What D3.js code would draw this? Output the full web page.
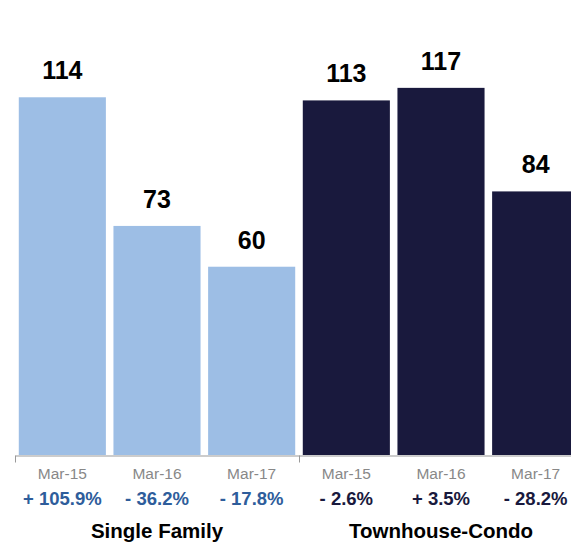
<!DOCTYPE html>
<html>
<head>
<meta charset="utf-8">
<script src="https://cdn.jsdelivr.net/npm/d3@7"></script>
<style>
  body { margin: 0; background: #fff; }
  text { font-family: "Liberation Sans", Arial, Helvetica, sans-serif; }
</style>
</head>
<body>
<div class="canvas"></div>
<script>
// data
const groups = ["Single Family", "Townhouse-Condo"];
const months = ["Mar-15", "Mar-16", "Mar-17"];
const singleFamily = [114, 73, 60];
const townhouseCondo = [113, 117, 84];
const singleFamilyChange = ["+ 105.9%", "- 36.2%", "- 17.8%"];
const townhouseCondoChange = ["- 2.6%", "+ 3.5%", "- 28.2%"];

const series = [
  { group: groups[0], values: singleFamily, change: singleFamilyChange, fill: "#9dbee5", changeFill: "#2e5d9b" },
  { group: groups[1], values: townhouseCondo, change: townhouseCondoChange, fill: "#19193d", changeFill: "#19193d" }
];

const width = 571;
const height = 543;
const baseline = 455;

const svg = d3
  .select(".canvas")
  .append("svg")
  .attr("width", width)
  .attr("height", height);

// scales
const x0 = d3.scaleBand().domain(groups).range([15, 583]);
const x1 = d3
  .scaleBand()
  .domain(months)
  .range([0, x0.bandwidth()])
  .paddingInner(0.08)
  .paddingOuter(0.04);
const y = d3.scaleLinear().domain([0, 145]).range([baseline, 0]);

// one group per series
const groupG = svg
  .selectAll("g.group")
  .data(series)
  .enter()
  .append("g")
  .attr("class", "group")
  .attr("transform", d => `translate(${x0(d.group)}, 0)`);

// bars
groupG
  .selectAll("rect")
  .data(d => d.values.map((v, i) => ({ month: months[i], value: v, fill: d.fill })))
  .enter()
  .append("rect")
  .attr("x", d => x1(d.month))
  .attr("y", d => y(d.value))
  .attr("width", x1.bandwidth())
  .attr("height", d => baseline - y(d.value))
  .attr("fill", d => d.fill);

// value labels above bars
groupG
  .selectAll("text.value")
  .data(d => d.values.map((v, i) => ({ month: months[i], value: v })))
  .enter()
  .append("text")
  .attr("class", "value")
  .attr("x", d => x1(d.month) + x1.bandwidth() / 2)
  .attr("y", d => y(d.value) - 18)
  .attr("text-anchor", "middle")
  .attr("font-size", "25px")
  .attr("font-weight", "bold")
  .attr("fill", "#000")
  .text(d => d.value);

// month labels through an axis per group
groupG
  .append("g")
  .attr("class", "month-axis")
  .attr("transform", `translate(0, ${baseline + 1})`)
  .each(function() {
    const axis = d3.axisBottom(x1).tickSize(0).tickPadding(12);
    d3.select(this).call(axis);
  });

svg.selectAll(".month-axis .domain").remove();
svg
  .selectAll(".month-axis text")
  .attr("font-size", "15.5px")
  .attr("font-family", null)
  .attr("fill", "#888");

// change percentages
groupG
  .selectAll("text.change")
  .data(d => d.change.map((c, i) => ({ month: months[i], change: c, fill: d.changeFill })))
  .enter()
  .append("text")
  .attr("class", "change")
  .attr("x", d => x1(d.month) + x1.bandwidth() / 2)
  .attr("y", 505)
  .attr("text-anchor", "middle")
  .attr("font-size", "18.5px")
  .attr("font-weight", "bold")
  .attr("fill", d => d.fill)
  .text(d => d.change);

// group names
groupG
  .append("text")
  .attr("x", x0.bandwidth() / 2)
  .attr("y", 538)
  .attr("text-anchor", "middle")
  .attr("font-size", "20.5px")
  .attr("font-weight", "bold")
  .attr("fill", "#000")
  .text(d => d.group);

// baseline with ticks at group edges
const edge = d3.scaleLinear().domain([0, groups.length]).range(x0.range());
const edgeAxis = svg
  .append("g")
  .attr("class", "edge-axis")
  .attr("transform", `translate(0, ${baseline + 0.5})`)
  .call(
    d3
      .axisBottom(edge)
      .tickValues(d3.range(groups.length + 1))
      .tickFormat("")
      .tickSizeInner(7)
      .tickSizeOuter(0)
  );
edgeAxis.selectAll("path, line").attr("stroke", "#999");
</script>
</body>
</html>
